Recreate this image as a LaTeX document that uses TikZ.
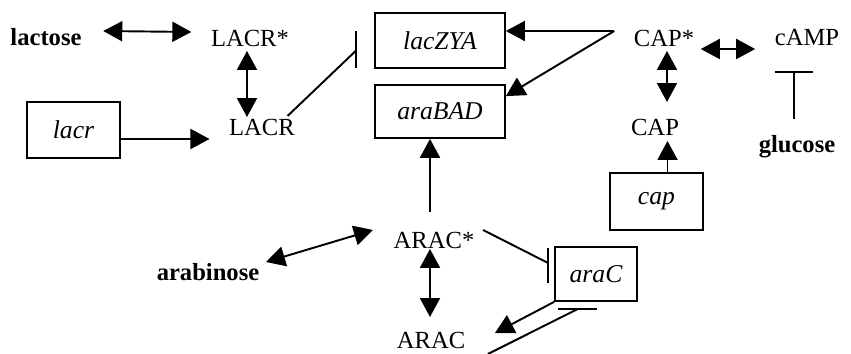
\documentclass[tikz,border=0pt]{standalone}
\usepackage{fontspec}
\setmainfont{Liberation Serif}
\usetikzlibrary{arrows.meta, positioning, calc}

\begin{document}
\begin{tikzpicture}[x=0.02cm, y=-0.02cm, line width=1.1pt,
  every node/.style={font=\fontsize{14}{16}\selectfont, inner sep=1pt},
  gene/.style={draw, line width=1pt, inner sep=0pt, font=\fontsize{14.6}{16}\selectfont\itshape},
  sugar/.style={font=\fontsize{14}{16}\selectfont\bfseries},
  act/.style={-{Triangle[length=0.38cm, width=0.4cm]}},
  dbl/.style={{Triangle[length=0.38cm, width=0.4cm]}-{Triangle[length=0.38cm, width=0.4cm]}}]
\useasboundingbox (0,0) rectangle (851,354);

% --- lac operon ---
\node[sugar] (lactose) at (46,37) {lactose};
\node (lacRs) at (250,38) {LACR*};
\node (lacR) at (262,127) {LACR};
\node[gene, minimum width=1.86cm, minimum height=1.12cm] (lacr) at (73.5,130) {lacr};
\node[gene, minimum width=2.6cm, minimum height=1.1cm] (lacZYA) at (440,40.5) {lacZYA};
\node[gene, minimum width=2.6cm, minimum height=1.06cm] (araBAD) at (440,111.5) {araBAD};

\draw[dbl] ($(lactose.east)+(19,-6)$) -- ($(lacRs.west)+(-17,-6)$);
\draw[dbl] ($(lacRs.south)+(-3,2)$) -- ($(lacRs.south |- lacR.north)+(-3,1)$);
\draw[act] ($(lacr.east)+(0,9)$) -- ($(lacr.east -| lacR.west)+(-17,9)$);
% repression of lacZYA by LACR
\coordinate (lacbar) at ($(lacZYA.west)+(-18,10)$);
\draw ($(lacR.north east)+(-10,0)$) -- (lacbar);
\draw ($(lacbar)+(0,-19)$) -- ($(lacbar)+(0,18)$);

% --- CAP / cAMP ---
\node (CAPs) at (664,38) {CAP*};
\node (cAMP) at (807,38) {cAMP};
\node (CAP) at (655,127) {CAP};
\node[gene, minimum width=1.86cm, minimum height=1.14cm] (cap) at (656.5,201.5) {cap};
\node[sugar] (glucose) at (797,147) {glucose};

\coordinate (capfork) at ($(CAPs.west)+(-17,-7)$);
\draw[act] (capfork) -- (capfork -| lacZYA.east);
\draw[act] (capfork) -- ($(araBAD.north east)+(0,12)$);
\draw[dbl] ($(CAPs.south east)+(4,0)$) -- ($(CAPs.south east -| cAMP.west)+(-17,0)$);
\draw[dbl] ($(CAPs.south)+(3,2)$) -- ($(CAPs.south |- CAP.north)+(3,-14)$);
\draw[act] ($(cap.north)+(11,0)$) -- ($(cap.north |- CAP.south)+(11,3)$);
% glucose blocks cAMP
\coordinate (glcbar) at (794,72);
\draw ($(glucose.north)+(-3,-14)$) -- (glcbar);
\draw ($(glcbar)+(-19,0)$) -- ($(glcbar)+(19,0)$);

% --- ara operon ---
\node (ARACs) at (434,240) {ARAC*};
\node[sugar] (arabinose) at (208,272) {arabinose};
\node (ARAC) at (431,340) {ARAC};
\node[gene, minimum width=1.64cm, minimum height=1.08cm] (araC) at (596,274) {araC};

\draw[act] ($(ARACs.north)+(-4,-17)$) -- ($(ARACs.north |- araBAD.south)+(-4,0)$);
\draw[dbl] ($(arabinose.east)+(4,-10)$) -- ($(ARACs.west)+(-18,-10)$);
\draw[dbl] ($(ARACs.south)+(-4,-2)$) -- ($(ARACs.south |- ARAC.north)+(-4,-12)$);
\draw[act] (araC.south west) -- ($(ARAC.east)+(27,-7)$);
% autorepression of araC
\coordinate (arabar) at ($(araC.west)+(-6,-11)$);
\draw ($(ARACs.east)+(6,-10)$) -- (arabar);
\draw ($(arabar)+(0,-15)$) -- ($(arabar)+(0,20)$);
\coordinate (arcbar) at ($(araC.south)+(-18,7)$);
\draw ($(ARAC.east)+(20,14)$) -- (arcbar);
\draw ($(arcbar)+(-20,0)$) -- ($(arcbar)+(19,0)$);
\end{tikzpicture}
\end{document}
